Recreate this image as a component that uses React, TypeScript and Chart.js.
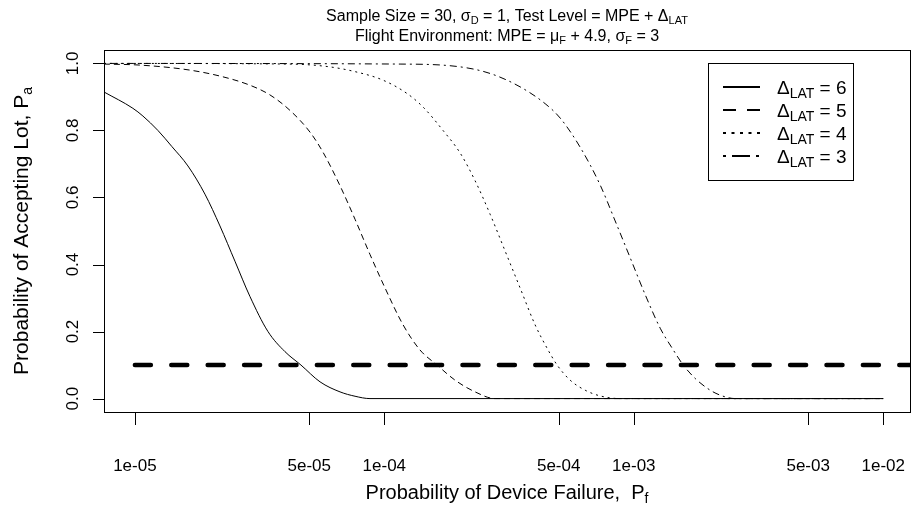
import React, { useEffect, useRef } from "react";
import { Chart, registerables } from "chart.js";

Chart.register(...registerables);

const FONT = '"Liberation Sans", Arial, sans-serif';

// Axis ticks
const xTickValues = [1e-5, 5e-5, 1e-4, 5e-4, 1e-3, 5e-3, 1e-2];
const xTickLabels = ["1e-05", "5e-05", "1e-04", "5e-04", "1e-03", "5e-03", "1e-02"];
const yTickValues = [0, 0.2, 0.4, 0.6, 0.8, 1.0];
const yTickLabels = ["0.0", "0.2", "0.4", "0.6", "0.8", "1.0"];

// Delta_LAT = 6 (solid)
const pfLat6 = [7.51e-6, 9.82e-6, 1.077e-5, 1.237e-5, 1.407e-5, 1.632e-5, 1.909e-5, 2.193e-5, 2.518e-5, 2.891e-5, 3.416e-5, 3.997e-5, 4.633e-5, 5.523e-5, 6.643e-5, 7.63e-5, 8.76e-5, 1e-2];
const paLat6 = [0.915, 0.866, 0.843, 0.8, 0.752, 0.694, 0.61, 0.515, 0.41, 0.305, 0.2, 0.14, 0.1, 0.05, 0.02, 0.007, 0, 0];

// Delta_LAT = 5 (dashed)
const pfLat5 = [7.51e-6, 1.047e-5, 1.662e-5, 2.254e-5, 2.891e-5, 3.479e-5, 4.183e-5, 5.035e-5, 5.678e-5, 6.643e-5, 7.63e-5, 8.76e-5, 1.0065e-4, 1.189e-4, 1.39e-4, 1.627e-4, 1.921e-4, 2.311e-4, 2.78e-4, 1e-2];
const paLat5 = [0.998, 0.995, 0.98, 0.96, 0.935, 0.906, 0.86, 0.795, 0.735, 0.635, 0.535, 0.43, 0.33, 0.22, 0.145, 0.1, 0.055, 0.02, 0, 0];

// Delta_LAT = 4 (dotted)
const pfLat4 = [7.51e-6, 4.18e-5, 6.0e-5, 7.77e-5, 9.88e-5, 1.234e-4, 1.429e-4, 1.719e-4, 2.012e-4, 2.311e-4, 2.655e-4, 3.05e-4, 3.502e-4, 4.022e-4, 4.494e-4, 4.929e-4, 5.558e-4, 6.383e-4, 7.333e-4, 8.817e-4, 1e-2];
const paLat4 = [1.0, 0.998, 0.99, 0.974, 0.95, 0.91, 0.87, 0.8, 0.733, 0.65, 0.55, 0.44, 0.33, 0.22, 0.15, 0.1, 0.055, 0.025, 0.008, 0, 0];

// Delta_LAT = 3 (dot-dash)
const pfLat3 = [7.51e-6, 1.156e-4, 2.0e-4, 2.655e-4, 3.502e-4, 4.41e-4, 5.068e-4, 6.095e-4, 7.333e-4, 8.42e-4, 9.674e-4, 1.111e-3, 1.276e-3, 1.426e-3, 1.579e-3, 1.763e-3, 2.025e-3, 2.262e-3, 2.551e-3, 1e-2];
const paLat3 = [1.0, 0.998, 0.99, 0.97, 0.93, 0.88, 0.837, 0.75, 0.637, 0.53, 0.42, 0.31, 0.21, 0.15, 0.1, 0.06, 0.025, 0.008, 0, 0];

// Reference line at Pa = 0.1
const refPf = [1e-5, 1];
const refPa = [0.1, 0.1];

const legendValues = ["6", "5", "4", "3"];

type Seg = [string, boolean];

function drawRich(
  ctx: CanvasRenderingContext2D,
  segs: Seg[],
  x: number,
  y: number,
  size: number,
  subSize: number,
  subDy: number,
  align: "left" | "center"
) {
  const widths: number[] = [];
  let total = 0;
  segs.forEach(([t, sub]) => {
    ctx.font = `${sub ? subSize : size}px ${FONT}`;
    const w = ctx.measureText(t).width;
    widths.push(w);
    total += w;
  });
  let cx = align === "center" ? x - total / 2 : x;
  ctx.textAlign = "left";
  ctx.textBaseline = "alphabetic";
  segs.forEach(([t, sub], i) => {
    ctx.font = `${sub ? subSize : size}px ${FONT}`;
    ctx.fillText(t, cx, sub ? y + subDy : y);
    cx += widths[i];
  });
}

const decorPlugin = {
  id: "decor",
  afterDraw(chart: any) {
    const ctx: CanvasRenderingContext2D = chart.ctx;
    const xs = chart.scales.x;
    const ys = chart.scales.y;
    const area = chart.chartArea;
    ctx.save();
    ctx.fillStyle = "#000";
    ctx.strokeStyle = "#000";
    ctx.lineWidth = 1;
    ctx.setLineDash([]);

    // plot box
    ctx.strokeRect(area.left + 0.5, area.top + 0.5, area.right - area.left, area.bottom - area.top);

    // ticks
    ctx.beginPath();
    xTickValues.forEach((v) => {
      const px = Math.round(xs.getPixelForValue(v)) + 0.5;
      ctx.moveTo(px, area.bottom);
      ctx.lineTo(px, area.bottom + 13);
    });
    yTickValues.forEach((v) => {
      const py = Math.round(ys.getPixelForValue(v)) + 0.5;
      ctx.moveTo(area.left - 11, py);
      ctx.lineTo(area.left, py);
    });
    ctx.stroke();

    // x tick labels
    ctx.font = `17px ${FONT}`;
    ctx.textAlign = "center";
    ctx.textBaseline = "alphabetic";
    xTickValues.forEach((v, i) => {
      ctx.fillText(xTickLabels[i], xs.getPixelForValue(v), area.bottom + 59);
    });
    // y tick labels (rotated)
    yTickValues.forEach((v, i) => {
      ctx.save();
      ctx.translate(area.left - 26, ys.getPixelForValue(v));
      ctx.rotate(-Math.PI / 2);
      ctx.textAlign = "center";
      ctx.fillText(yTickLabels[i], 0, 0);
      ctx.restore();
    });

    // axis titles
    const cxPlot = (area.left + area.right) / 2;
    drawRich(ctx, [["Probability of Device Failure,  P", false], ["f", true]], cxPlot, 499, 20, 14, 4, "center");
    ctx.save();
    ctx.translate(28, (area.top + area.bottom) / 2);
    ctx.rotate(-Math.PI / 2);
    drawRich(ctx, [["Probability of Accepting Lot, P", false], ["a", true]], 0, 0, 21, 14, 4, "center");
    ctx.restore();

    // main title
    drawRich(
      ctx,
      [["Sample Size = 30, \u03C3", false], ["D", true], [" = 1, Test Level = MPE + \u0394", false], ["LAT", true]],
      cxPlot, 21, 16, 11, 3, "center"
    );
    drawRich(
      ctx,
      [["Flight Environment: MPE = \u03BC", false], ["F", true], [" + 4.9, \u03C3", false], ["F", true], [" = 3", false]],
      cxPlot, 41, 16, 11, 3, "center"
    );

    // legend
    const lx0 = 708, ly0 = 63, lw = 145, lh = 117;
    ctx.fillStyle = "#fff";
    ctx.fillRect(lx0, ly0, lw, lh);
    ctx.fillStyle = "#000";
    ctx.strokeRect(lx0 + 0.5, ly0 + 0.5, lw, lh);
    const rows = [87, 110, 133, 156];
    const dashes = [[], [13, 11], [3, 5.5], [3, 6, 18, 6]];
    rows.forEach((ry, i) => {
      ctx.save();
      ctx.lineWidth = 2;
      ctx.setLineDash(dashes[i]);
      ctx.beginPath();
      ctx.moveTo(723, ry);
      ctx.lineTo(760, ry);
      ctx.stroke();
      ctx.restore();
      drawRich(ctx, [["\u0394", false], ["LAT", true], [" = " + legendValues[i], false]], 777, ry + 7, 19, 14, 4, "left");
    });

    ctx.restore();
  },
};

export default function App() {
  const ref = useRef<HTMLCanvasElement | null>(null);
  useEffect(() => {
    document.body.style.margin = "0";
    const canvas = ref.current!;
    const mk = (xs: number[], ys: number[]) => xs.map((x, i) => ({ x, y: ys[i] }));
    const common = { borderColor: "#000", borderWidth: 1, pointRadius: 0, cubicInterpolationMode: "monotone" };
    const chart = new Chart(canvas, {
      type: "line",
      data: {
        datasets: [
          {
            label: "Pa = 0.1",
            data: mk(refPf, refPa),
            borderColor: "#000",
            borderWidth: 4.5,
            borderDash: [16, 20.4],
            borderCapStyle: "round",
            pointRadius: 0,
          },
          { label: "LAT 6", data: mk(pfLat6, paLat6), ...common },
          { label: "LAT 5", data: mk(pfLat5, paLat5), ...common, borderDash: [6, 4] },
          { label: "LAT 4", data: mk(pfLat4, paLat4), ...common, borderDash: [2, 4] },
          { label: "LAT 3", data: mk(pfLat3, paLat3), ...common, borderDash: [2, 4, 7, 4] },
        ] as any,
      },
      options: {
        animation: false,
        responsive: false,
        maintainAspectRatio: false,
        layout: { padding: { left: 104, top: 50, right: 1, bottom: 96 } },
        scales: {
          x: { type: "logarithmic", min: 7.52e-6, max: 1.28e-2, display: false },
          y: { type: "linear", min: -0.04, max: 1.04, display: false },
        },
        plugins: { legend: { display: false }, tooltip: { enabled: false }, title: { display: false } },
      },
      plugins: [decorPlugin],
    });
    return () => chart.destroy();
  }, []);
  return (
    <div style={{ width: 911, height: 508, background: "#fff" }}>
      <canvas ref={ref} width={911} height={508} style={{ display: "block", width: 911, height: 508 }} />
    </div>
  );
}
